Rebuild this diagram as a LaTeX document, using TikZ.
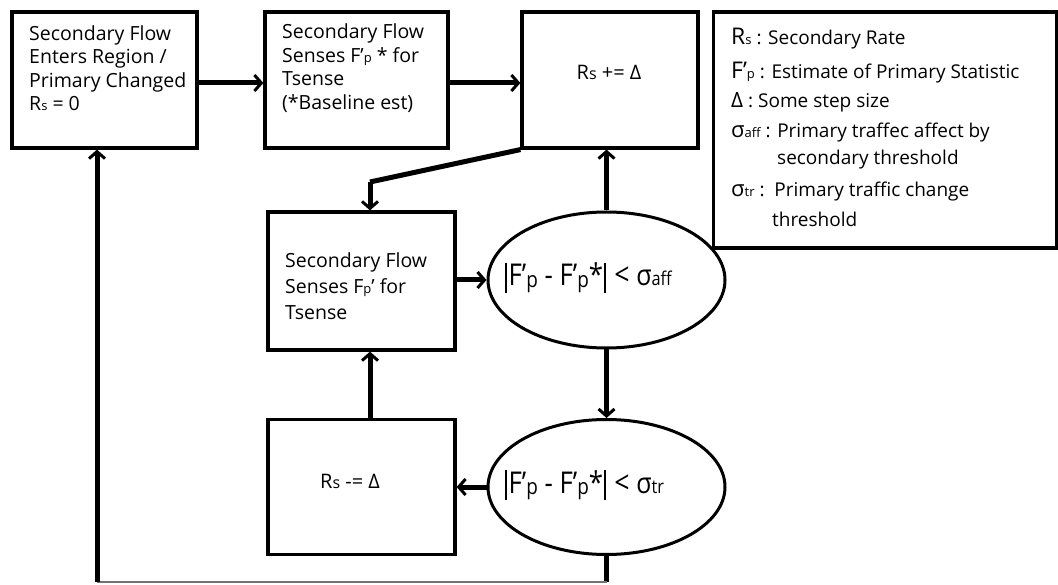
\documentclass[tikz,border=0pt]{standalone}
\usepackage{fontspec}
\setmainfont{Open Sans}
\usetikzlibrary{arrows.meta,shapes.geometric}
\newcommand{\lo}[1]{{\fontsize{13}{13}\selectfont #1}}
\newcommand{\mo}[1]{{\fontsize{16}{16}\selectfont #1}}
\newcommand{\elo}[1]{\raisebox{-1.5pt}{\fontsize{22}{22}\selectfont #1}}
\newcommand{\esub}[1]{{\fontsize{19}{19}\selectfont #1}}
\newcommand{\vbr}{\kern1pt\rule[-7pt]{2.2pt}{30pt}\kern2pt}
\newcommand{\esig}{{\fontsize{29}{29}\selectfont σ}}
\begin{document}
\begin{tikzpicture}[x=1pt,y=-1pt,
  box/.style={draw, line width=3.2pt, rectangle, inner sep=0pt},
  txt/.style={anchor=west, inner sep=0pt, align=left,
    font=\fontsize{19.5}{23.5}\selectfont},
  ell/.style={draw, line width=3pt, ellipse, inner sep=0pt},
  etxt/.style={anchor=west, inner sep=0pt, font=\fontsize{30}{33}\selectfont},
  small/.style={inner sep=0pt, font=\fontsize{20}{22}\selectfont},
  conn/.style={line width=5pt, -{Straight Barb[length=7pt,width=16pt,line width=3pt]}},
  thin/.style={line width=1.4pt, draw=black!55},
  legtxt/.style={anchor=west, inner sep=0pt, font=\fontsize{19}{22}\selectfont}]
\useasboundingbox (0,0) rectangle (1058,585);

\node[box, minimum width=185pt, minimum height=136pt] (b1) at (104.5,80) {};
\node[txt] (b1t) at (29,68)
  {Secondary Flow\\Enters Region /\\Primary Changed\\R\lo{s} = 0};
\node[box, minimum width=183pt, minimum height=136pt] (b2) at (356.5,80) {};
\node[txt] (b2t) at (282,68)
  {Secondary Flow\\Senses F’\lo{p} * for\\Tsense\\(*Baseline est)};
\node[box, minimum width=176pt, minimum height=136pt] (b3) at (610,80) {};
\node[small] (b3t) at (609,72) {R\mo{s} +{=} Δ};

\node[box, minimum width=343pt, minimum height=236pt] (leg) at (885,130) {};
\node[legtxt] (l1) at (731,39) {{\fontsize{23}{23}\selectfont R}\lo{s} : Secondary Rate};
\node[legtxt] (l2) at (731,73) {{\fontsize{23}{23}\selectfont F’}\lo{p} : Estimate of Primary Statistic};
\node[legtxt] (l3) at (731,102) {{\fontsize{21}{21}\selectfont Δ} : Some step size};
\node[legtxt] (l4) at (731,133) {{\fontsize{22}{22}\selectfont σ}\lo{aff} : Primary traffec affect by};
\node[legtxt] (l5) at (777,160) {secondary threshold};
\node[legtxt] (l6) at (731,192) {{\fontsize{22}{22}\selectfont σ}\lo{tr} :\ \ Primary traffic change};
\node[legtxt] (l7) at (772,219) {threshold};

\node[box, minimum width=187pt, minimum height=138pt] (b4) at (361.5,281) {};
\node[txt, font=\fontsize{19.5}{26}\selectfont] (b4t) at (285,286)
  {Secondary Flow\\Senses F\lo{p}’ for\\Tsense};
\node[ell, minimum width=237pt, minimum height=136pt] (e1) at (606.5,280) {};
\node[etxt] (e1t) at (504,278)
  {\scalebox{0.86}[1]{\vbr F’\elo{p} - F’\elo{p}*\vbr\ {\fontsize{31}{31}\selectfont<} \esig\esub{aff}}};
\node[box, minimum width=187pt, minimum height=135pt] (b5) at (361.5,487) {};
\node[small] (b5t) at (350,481) {R\mo{s} -{=} Δ};
\node[ell, minimum width=237pt, minimum height=135pt] (e2) at (606.5,487) {};
\node[etxt] (e2t) at (504,485)
  {\scalebox{0.86}[1]{\vbr F’\elo{p} - F’\elo{p}*\vbr\ {\fontsize{31}{31}\selectfont<} \esig\esub{tr}}};

\coordinate (k1) at (370,182);
\coordinate (k2) at (606.5,582);
\coordinate (k3) at (97,582);

\draw[conn] (b1.east |- 0,83) -- (b2.west |- 0,83);
\draw[conn] (b2.east |- 0,83) -- (b3.west |- 0,83);
\draw[line width=5pt] (b3.south west) -- (k1);
\draw[conn] (k1) -- (k1 |- b4.north);
\draw[conn] (e1.north) -- (e1.north |- b3.south);
\draw[conn] (b4.east |- e1.west) -- (e1.west);
\draw[conn] (e1.south) -- (e2.north);
\draw[conn] (e2.west) -- (b5.east |- e2.west);
\draw[conn] (b5.north -| k1) -- (b4.south -| k1);
\draw[line width=4.5pt] (e2.south) -- (k2);
\draw[thin] (k2) -- (k3);
\draw[conn] (k3) -- (k3 |- b1.south);
\end{tikzpicture}
\end{document}
